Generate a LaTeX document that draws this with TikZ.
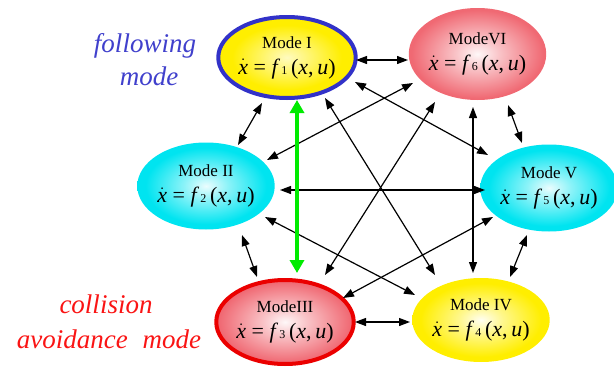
\documentclass[tikz,border=0pt]{standalone}
\usepackage{fontspec}
\setmainfont{Liberation Serif}
\usetikzlibrary{arrows.meta,shapes.geometric}
\definecolor{Yel}{RGB}{255,238,0}
\definecolor{Pnk}{RGB}{240,105,115}
\definecolor{Cyn}{RGB}{0,228,240}
\definecolor{Blu}{RGB}{50,50,200}
\definecolor{Rd}{RGB}{235,0,0}
\definecolor{Grn}{RGB}{0,235,0}
\definecolor{TxtBlue}{RGB}{64,64,204}
\definecolor{TxtRed}{RGB}{250,20,20}
\pgfdeclareradialshading{yshadeA}{\pgfpointorigin}{color(0bp)=(Yel!25!white); color(8bp)=(Yel!55!white); color(20bp)=(Yel); color(50bp)=(Yel)}
\pgfdeclareradialshading{yshade}{\pgfpointorigin}{color(0bp)=(Yel!5!white); color(8bp)=(Yel!45!white); color(22bp)=(Yel); color(50bp)=(Yel)}
\pgfdeclareradialshading{pshade}{\pgfpointorigin}{color(0bp)=(Pnk!5!white); color(8bp)=(Pnk!40!white); color(24bp)=(Pnk); color(50bp)=(Pnk)}
\pgfdeclareradialshading{cshade}{\pgfpointorigin}{color(0bp)=(Cyn!8!white); color(8bp)=(Cyn!45!white); color(22bp)=(Cyn); color(50bp)=(Cyn)}
\newcommand\eqnf[1]{$\dot{\mbox{\itshape x}}$ = {\itshape f}\,{\fontsize{12}{12}\selectfont #1}\,({\itshape x},\,{\itshape u})}
\newcommand\modetxt[2]{#1\\{\fontsize{22}{26}\selectfont\eqnf{#2}}}
\begin{document}
\begin{tikzpicture}[x=1pt,y=-1pt,
  mode/.style={ellipse, inner sep=0pt, align=center, text=black,
    font={\fontsize{17}{26}\selectfont}},
  arr/.style={{Triangle[length=11pt,width=8pt]}-{Triangle[length=11pt,width=8pt]}, line width=1.2pt, draw=black},
  garr/.style={{Triangle[length=13pt,width=14pt]}-{Triangle[length=13pt,width=14pt]}, line width=4pt, draw=Grn},
  lbl/.style={font={\fontsize{27}{30}\selectfont\itshape}, inner sep=0pt, anchor=base}]
\useasboundingbox (0,0) rectangle (614,367);
% nodes
\node[mode, shading=yshadeA, draw=Blu, line width=4pt, minimum width=126pt, minimum height=81pt] (I) at (287,57.5) {\modetxt{Mode I}{1}};
\node[mode, shading=pshade, minimum width=135pt, minimum height=92pt] (VI) at (477.5,54) {\modetxt{ModeVI}{6}};
\node[mode, shading=cshade, minimum width=136pt, minimum height=87pt] (II) at (206,186) {\modetxt{Mode II}{2}};
\node[mode, shading=cshade, minimum width=125pt, minimum height=87pt] (V) at (549,188) {\modetxt{Mode V}{5}};
\node[mode, shading=pshade, draw=Rd, line width=4pt, minimum width=132pt, minimum height=84pt] (III) at (285,322) {\modetxt{ModeIII}{3}};
\node[mode, shading=yshade, minimum width=128pt, minimum height=84pt] (IV) at (481,320) {\modetxt{Mode IV}{4}};
% side labels
\node[lbl, text=TxtBlue] (fol) at (145,52) {following};
\node[lbl, text=TxtBlue] (folm) at (149,85) {mode};
\node[lbl, text=TxtRed] (col) at (106,313) {collision};
\node[lbl, text=TxtRed] (cola) at (109,348) {avoidance\hspace{0.3em} mode};
% connectors
\draw[arr] ([shift={(69,2.5)}]I.center) -- ([shift={(-69.5,6)}]VI.center);
\draw[arr] ([shift={(70,0)}]III.center) -- ([shift={(-71,2)}]IV.center);
\draw[arr] ([shift={(-25,45.5)}]I.center) -- ([shift={(32,-41)}]II.center);
\draw[arr] ([shift={(36,49)}]II.center) -- ([shift={(-28,-45)}]III.center);
\draw[arr] ([shift={(30.5,51)}]VI.center) -- ([shift={(-27,-45)}]V.center);
\draw[arr] ([shift={(-22,47)}]V.center) -- ([shift={(29,-43)}]IV.center);
\draw[arr] ([shift={(-4.5,53)}]VI.center) -- ([shift={(-8,-47)}]IV.center);
\draw[arr] ([shift={(74,4)}]II.center) -- ([shift={(-64,2)}]V.center);
\draw[arr] ([shift={(-64.5,29)}]VI.center) -- ([shift={(61,-26)}]II.center);
\draw[arr] ([shift={(68,24.5)}]I.center) -- ([shift={(-61,-33)}]V.center);
\draw[arr] ([shift={(58,-24)}]III.center) -- ([shift={(-56,29)}]V.center);
\draw[arr] ([shift={(59,31)}]II.center) -- ([shift={(-66,-25)}]IV.center);
\draw[arr] ([shift={(38,40.5)}]I.center) -- ([shift={(-46,-45)}]IV.center);
\draw[arr] ([shift={(-42.5,48)}]VI.center) -- ([shift={(40,-47)}]III.center);
\draw[garr] ([shift={(10,42.5)}]I.center) -- ([shift={(12,-49)}]III.center);
\end{tikzpicture}
\end{document}
